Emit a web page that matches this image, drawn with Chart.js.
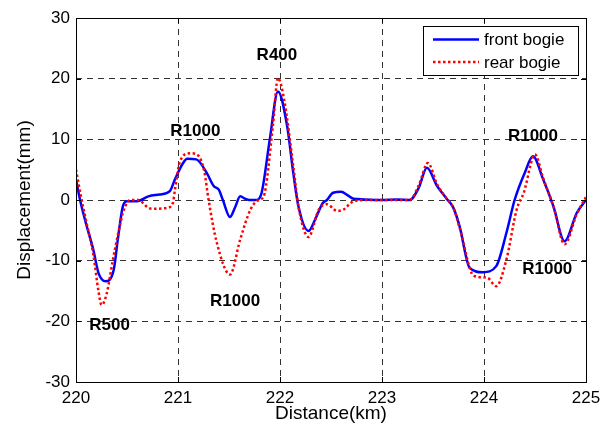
<!DOCTYPE html>
<html>
<head>
<meta charset="utf-8">
<title>Bogie displacement</title>
<script src="https://cdn.jsdelivr.net/npm/chart.js@4/dist/chart.umd.min.js"></script>
<style>
  html, body { margin: 0; padding: 0; background: #fff; }
  #wrap { width: 613px; height: 425px; position: relative; }
</style>
</head>
<body>
<div id="wrap"><canvas id="dispChart"></canvas></div>
<script>
// distance along the line (km) and lateral displacement (mm)
const frontKm = [220.00, 220.04, 220.10, 220.17, 220.22, 220.29, 220.37, 220.41, 220.46, 220.50,
  220.60, 220.71, 220.82, 220.92, 220.97, 221.05, 221.09, 221.18, 221.28, 221.35,
  221.40, 221.44, 221.51, 221.56, 221.61, 221.66, 221.70, 221.77, 221.82, 221.90,
  221.98, 222.07, 222.13, 222.18, 222.28, 222.35, 222.42, 222.46, 222.52, 222.60,
  222.66, 222.72, 222.82, 223.00, 223.15, 223.27, 223.36, 223.44, 223.54, 223.63,
  223.70, 223.76, 223.86, 223.99, 224.12, 224.22, 224.30, 224.40, 224.48, 224.58,
  224.68, 224.79, 224.91, 225.00];
const frontMm = [3.4, 0, -4, -8.2, -12, -13.4, -11.5, -6.5, -1, -0.2,
  -0.2, 0.6, 0.9, 1.45, 3.4, 6.1, 6.8, 6.7, 4.5, 2.3,
  1.7, 0, -2.8, -1.2, 0.6, 0.2, 0, 0, 1.2, 10,
  17.9, 12.2, 4.5, -1, -5.1, -3, -0.5, 0, 1.2, 1.35,
  0.8, 0.2, 0.1, 0, 0.1, 0, 2, 5.3, 2.3, 0.3,
  -1.3, -4.3, -11.2, -11.9, -10.9, -5.4, 0, 4.5, 7.2, 3.4,
  -1, -6.8, -2.1, 0];

const rearKm = [220.00, 220.05, 220.10, 220.17, 220.22, 220.25, 220.30, 220.36, 220.42, 220.46,
  220.50, 220.53, 220.61, 220.71, 220.76, 220.89, 220.95, 220.97, 221.02, 221.12,
  221.20, 221.26, 221.30, 221.38, 221.51, 221.61, 221.71, 221.79, 221.84, 221.93,
  221.98, 222.04, 222.13, 222.18, 222.28, 222.38, 222.46, 222.56, 222.62, 222.72,
  222.85, 223.00, 223.27, 223.36, 223.45, 223.54, 223.63, 223.70, 223.76, 223.90,
  224.03, 224.12, 224.22, 224.32, 224.39, 224.50, 224.58, 224.68, 224.79, 224.91,
  225.00];
const rearMm = [5, 0.5, -3.5, -9, -15, -17.3, -15.5, -10, -5, -2.1,
  -0.5, 0, 0, -1.3, -1.45, -1.3, -0.5, 1.7, 6.4, 7.7,
  7.3, 4.5, 0, -7, -12.3, -6.5, -1.6, 0, 0.6, 12.2,
  20.1, 16.6, 5.6, -1, -6.1, -1.6, -0.7, -1.8, -1.6, -0.2,
  0, 0, 0, 2.4, 6.1, 2.6, 0.3, -1.3, -4.5, -12.5,
  -12.8, -14.2, -9.8, -1.6, 1.2, 7.5, 3.6, -1, -7.3, -2.3,
  0.5];

const xTicks = [220, 221, 222, 223, 224, 225];
const yTicks = [-30, -20, -10, 0, 10, 20, 30];

// curve radius labels, placed in data units
const curveLabels = ["R400", "R1000", "R1000", "R500", "R1000", "R1000"];
const curveLabelKm = [221.97, 221.17, 224.48, 220.33, 221.56, 224.62];
const curveLabelMm = [23.8, 11.3, 10.5, -20.7, -16.7, -11.4];

const FONT = "'Liberation Sans', Arial, sans-serif";

function toPoints(xs, ys) {
  return xs.map((x, i) => ({ x: x, y: ys[i] }));
}

// box frame, inward tick marks, curve labels and legend
const framePlugin = {
  id: "frame",
  afterDraw(chart) {
    const ctx = chart.ctx;
    const a = chart.chartArea;
    const xs = chart.scales.x;
    const ys = chart.scales.y;
    ctx.save();
    ctx.strokeStyle = "#000";
    ctx.lineWidth = 1;
    ctx.setLineDash([]);
    ctx.strokeRect(Math.round(a.left) + 0.5, Math.round(a.top) + 0.5,
      Math.round(a.right - a.left), Math.round(a.bottom - a.top));

    const tl = 5;
    ctx.beginPath();
    xTicks.forEach((v) => {
      const px = Math.round(xs.getPixelForValue(v)) + 0.5;
      ctx.moveTo(px, a.bottom); ctx.lineTo(px, a.bottom - tl);
      ctx.moveTo(px, a.top); ctx.lineTo(px, a.top + tl);
    });
    yTicks.forEach((v) => {
      const py = Math.round(ys.getPixelForValue(v)) + 0.5;
      ctx.moveTo(a.left, py); ctx.lineTo(a.left + tl, py);
      ctx.moveTo(a.right, py); ctx.lineTo(a.right - tl, py);
    });
    ctx.stroke();

    ctx.fillStyle = "#000";
    ctx.font = "bold 17px " + FONT;
    ctx.textAlign = "center";
    ctx.textBaseline = "middle";
    curveLabels.forEach((t, i) => {
      ctx.fillText(t, xs.getPixelForValue(curveLabelKm[i]), ys.getPixelForValue(curveLabelMm[i]));
    });

    // legend box in the upper right corner
    const bw = 155, bh = 49;
    const bx = Math.round(a.right) - 8 - bw, by = Math.round(a.top) + 8;
    ctx.fillStyle = "#fff";
    ctx.fillRect(bx, by, bw, bh);
    ctx.strokeStyle = "#000";
    ctx.lineWidth = 1;
    ctx.strokeRect(bx + 0.5, by + 0.5, bw, bh);
    ctx.font = "17px " + FONT;
    ctx.textAlign = "left";
    ctx.textBaseline = "middle";
    const order = [0, 1];
    order.forEach((di, row) => {
      const ds = chart.data.datasets[di];
      const ly = by + 13.5 + row * 22.5;
      ctx.strokeStyle = ds.borderColor;
      ctx.lineWidth = ds.borderWidth;
      ctx.setLineDash(ds.borderDash || []);
      ctx.beginPath();
      ctx.moveTo(bx + 10, ly);
      ctx.lineTo(bx + 56, ly);
      ctx.stroke();
      ctx.setLineDash([]);
      ctx.fillStyle = "#000";
      ctx.fillText(ds.label, bx + 61, ly + 1);
    });
    ctx.restore();
  },
};

new Chart(document.getElementById("dispChart"), {
  type: "line",
  data: {
    datasets: [
      {
        label: "front bogie",
        data: toPoints(frontKm, frontMm),
        borderColor: "#0000ff",
        borderWidth: 2.5,
        pointRadius: 0,
        cubicInterpolationMode: "monotone",
        order: 1,
      },
      {
        label: "rear bogie",
        data: toPoints(rearKm, rearMm),
        borderColor: "#ff0000",
        borderWidth: 2.5,
        borderDash: [2.5, 2.5],
        borderCapStyle: "butt",
        pointRadius: 0,
        cubicInterpolationMode: "monotone",
        order: 0,
      },
    ],
  },
  options: {
    responsive: true,
    maintainAspectRatio: false,
    animation: false,
    layout: { padding: { left: 13, top: 18, right: 27, bottom: 0 } },
    plugins: {
      legend: { display: false },
      tooltip: { enabled: false },
    },
    scales: {
      x: {
        type: "linear",
        min: 220,
        max: 225,
        afterBuildTicks: (s) => { s.ticks = xTicks.map((v) => ({ value: v })); },
        afterFit: (s) => { s.height = 43; },
        ticks: {
          color: "#000",
          font: { family: FONT, size: 17 },
          padding: 6,
          maxRotation: 0,
        },
        grid: { color: "#333", lineWidth: 1, drawTicks: false },
        border: { display: false, dash: [6, 5] },
        title: {
          display: true,
          text: "Distance(km)",
          color: "#000",
          font: { family: FONT, size: 19 },
          padding: { top: -2, bottom: 0 },
        },
      },
      y: {
        min: -30,
        max: 30,
        afterBuildTicks: (s) => { s.ticks = yTicks.map((v) => ({ value: v })); },
        afterFit: (s) => { s.width = 63; },
        ticks: {
          color: "#000",
          font: { family: FONT, size: 17 },
          padding: 6,
        },
        grid: { color: "#333", lineWidth: 1, drawTicks: false },
        border: { display: false, dash: [6, 5] },
        title: {
          display: true,
          text: "Displacement(mm)",
          color: "#000",
          font: { family: FONT, size: 19 },
          padding: { top: 0, bottom: 0 },
        },
      },
    },
  },
  plugins: [framePlugin],
});
</script>
</body>
</html>
